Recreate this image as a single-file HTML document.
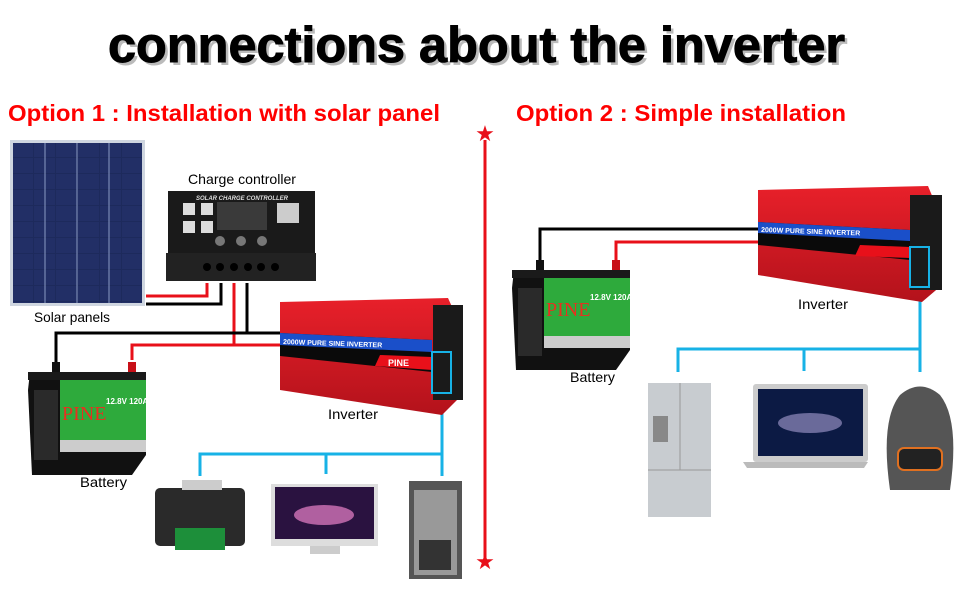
<!DOCTYPE html>
<html><head><meta charset="utf-8"><style>
html,body{margin:0;padding:0;background:#fff;width:970px;height:600px;overflow:hidden}
svg{display:block}
text{font-family:"Liberation Sans",sans-serif}
</style></head><body>
<svg width="970" height="600" viewBox="0 0 970 600" xmlns="http://www.w3.org/2000/svg">
<defs>
<pattern id="cells" x="12" y="142" width="22" height="16" patternUnits="userSpaceOnUse">
<rect width="22" height="16" fill="#1d2a5c"/><rect x="0" y="0" width="21" height="15" fill="#222f66"/>
</pattern>
<linearGradient id="red" x1="0" y1="0" x2="0" y2="1"><stop offset="0" stop-color="#e8202a"/><stop offset="1" stop-color="#b3121b"/></linearGradient>
</defs>
<text x="108" y="62" font-size="50" font-weight="bold" textLength="737" lengthAdjust="spacingAndGlyphs" fill="#bbb" transform="translate(3,3)">connections about the inverter</text>
<text x="108" y="62" font-size="50" font-weight="bold" textLength="737" lengthAdjust="spacingAndGlyphs" fill="#000" stroke="#000" stroke-width="1">connections about the inverter</text>
<text x="8" y="121" font-size="23" font-weight="bold" fill="#f00" textLength="432" lengthAdjust="spacingAndGlyphs">Option 1 : Installation with solar panel</text>
<text x="516" y="121" font-size="23" font-weight="bold" fill="#f00" textLength="330" lengthAdjust="spacingAndGlyphs">Option 2 : Simple installation</text>
<line x1="485" y1="140" x2="485" y2="558" stroke="#e8101a" stroke-width="3"/>
<text x="485" y="141" font-size="22" fill="#e8101a" text-anchor="middle">★</text>
<text x="485" y="569" font-size="22" fill="#e8101a" text-anchor="middle">★</text>

<g fill="none" stroke-width="3">
<polyline points="146,296 207,296 207,283" stroke="#e8101a"/>
<polyline points="146,304 221,304 221,283" stroke="#000"/>
<polyline points="234,283 234,345 132,345 132,360" stroke="#e8101a"/>
<polyline points="234,345 280,345" stroke="#e8101a"/>
<polyline points="247,283 247,333 56,333 56,366" stroke="#000"/>
<polyline points="247,333 280,333" stroke="#000"/>
<polyline points="442,390 442,476" stroke="#17b2e6"/>
<polyline points="200,476 200,454 442,454" stroke="#17b2e6"/>
<line x1="326" y1="454" x2="326" y2="474" stroke="#17b2e6"/>
</g>
<rect x="10" y="140" width="135" height="166" fill="#cfd6e0"/>
<rect x="13" y="143" width="129" height="160" fill="url(#cells)"/>
<line x1="77" y1="143" x2="77" y2="303" stroke="#8b9bc4" stroke-width="1"/>
<line x1="109" y1="143" x2="109" y2="303" stroke="#8b9bc4" stroke-width="1"/>
<line x1="45" y1="143" x2="45" y2="303" stroke="#8b9bc4" stroke-width="1"/>
<text x="34" y="322" font-size="14" textLength="76" lengthAdjust="spacingAndGlyphs">Solar panels</text>
<text x="188" y="184" font-size="14" textLength="108" lengthAdjust="spacingAndGlyphs">Charge controller</text>
<rect x="168" y="191" width="147" height="62" fill="#1a1a1a"/>
<text x="242" y="200" font-size="6" fill="#ddd" text-anchor="middle" font-style="italic" font-weight="bold">SOLAR CHARGE CONTROLLER</text>
<rect x="217" y="202" width="50" height="28" fill="#3a3a3a"/>
<rect x="183" y="203" width="12" height="12" fill="#ddd"/><rect x="201" y="203" width="12" height="12" fill="#ddd"/>
<rect x="183" y="221" width="12" height="12" fill="#ddd"/><rect x="201" y="221" width="12" height="12" fill="#ddd"/>
<rect x="277" y="203" width="22" height="20" fill="#ccc"/>
<circle cx="220" cy="241" r="5" fill="#777"/><circle cx="241" cy="241" r="5" fill="#777"/><circle cx="262" cy="241" r="5" fill="#777"/>
<rect x="166" y="253" width="150" height="28" fill="#222"/>
<g fill="#000"><circle cx="207" cy="267" r="4"/><circle cx="220" cy="267" r="4"/><circle cx="234" cy="267" r="4"/><circle cx="248" cy="267" r="4"/><circle cx="261" cy="267" r="4"/><circle cx="275" cy="267" r="4"/></g>
<polygon points="280,302 448,298 458,320 462,395 442,415 280,390" fill="url(#red)"/>
<rect x="433" y="305" width="30" height="95" fill="#1a1a1a"/>
<polygon points="280,333 432,340 432,372 280,356" fill="#0a0a0a"/>
<polygon points="280,333 432,340 432,352 280,345" fill="#1a4fc9"/>
<text x="283" y="344" font-size="7" font-weight="bold" fill="#fff" transform="rotate(2 283 344)">2000W PURE SINE INVERTER</text>
<polygon points="380,355 432,357 432,370 375,366" fill="#e8101a"/>
<text x="388" y="366" font-size="9" font-weight="bold" fill="#fff">PINE</text>
<rect x="432" y="352" width="19" height="41" fill="none" stroke="#17b2e6" stroke-width="2"/>
<text x="328" y="419" font-size="14" textLength="50" lengthAdjust="spacingAndGlyphs">Inverter</text>
<g transform="translate(28,370)">
<rect x="24" y="-8" width="8" height="10" fill="#111"/><rect x="100" y="-8" width="8" height="10" fill="#c81018"/>
<polygon points="2,2 118,2 118,85 104,105 4,105 0,20" fill="#111"/>
<rect x="6" y="20" width="24" height="70" fill="#2a2a2a"/>
<rect x="0" y="2" width="118" height="8" fill="#1a1a1a"/>
<rect x="32" y="10" width="86" height="60" fill="#2eaa3c"/>
<rect x="32" y="70" width="86" height="12" fill="#ccc"/>
<text x="34" y="50" font-size="20" fill="#e83020" style="font-family:'Liberation Serif',serif">PINE</text>
<text x="78" y="34" font-size="8" fill="#fff" font-weight="bold">12.8V 120Ah</text>
</g>
<text x="80" y="487" font-size="14" textLength="47" lengthAdjust="spacingAndGlyphs">Battery</text>
<rect x="155" y="488" width="90" height="58" rx="5" fill="#2a2a2a"/>
<rect x="175" y="528" width="50" height="22" fill="#1d8f3a"/>
<rect x="182" y="480" width="40" height="10" fill="#ccc"/>
<rect x="271" y="484" width="107" height="62" fill="#ddd"/>
<rect x="275" y="487" width="99" height="52" fill="#2a1240"/>
<ellipse cx="324" cy="515" rx="30" ry="10" fill="#b060a0"/>
<rect x="310" y="546" width="30" height="8" fill="#ccc"/>
<rect x="409" y="481" width="53" height="98" fill="#555"/>
<rect x="414" y="490" width="43" height="85" fill="#999"/>
<rect x="419" y="540" width="32" height="30" fill="#333"/>

<g fill="none" stroke-width="3">
<polyline points="540,290 540,229 760,229" stroke="#000"/>
<polyline points="616,265 616,242 760,242" stroke="#e8101a"/>
<polyline points="920,288 920,372" stroke="#17b2e6"/>
<polyline points="678,372 678,349 920,349" stroke="#17b2e6"/>
<line x1="804" y1="349" x2="804" y2="371" stroke="#17b2e6"/>
</g>
<g transform="translate(512,268)">
<rect x="24" y="-8" width="8" height="10" fill="#111"/><rect x="100" y="-8" width="8" height="10" fill="#c81018"/>
<polygon points="2,2 118,2 118,82 104,102 4,102 0,20" fill="#111"/>
<rect x="6" y="20" width="24" height="68" fill="#2a2a2a"/>
<rect x="0" y="2" width="118" height="8" fill="#1a1a1a"/>
<rect x="32" y="10" width="86" height="58" fill="#2eaa3c"/>
<rect x="32" y="68" width="86" height="12" fill="#ccc"/>
<text x="34" y="48" font-size="20" fill="#e83020" style="font-family:'Liberation Serif',serif">PINE</text>
<text x="78" y="32" font-size="8" fill="#fff" font-weight="bold">12.8V 120Ah</text>
</g>
<text x="570" y="382" font-size="14" textLength="45" lengthAdjust="spacingAndGlyphs">Battery</text>
<polygon points="758,190 928,186 938,210 942,285 922,302 758,275" fill="url(#red)"/>
<rect x="910" y="195" width="32" height="95" fill="#1a1a1a"/>
<polygon points="758,222 910,230 910,260 758,245" fill="#0a0a0a"/>
<polygon points="758,222 910,230 910,241 758,233" fill="#1a4fc9"/>
<text x="761" y="232" font-size="7" font-weight="bold" fill="#fff" transform="rotate(2 761 232)">2000W PURE SINE INVERTER</text>
<polygon points="860,245 910,247 910,258 855,256" fill="#e8101a"/>
<rect x="910" y="247" width="19" height="40" fill="none" stroke="#17b2e6" stroke-width="2"/>
<text x="798" y="309" font-size="14" textLength="50" lengthAdjust="spacingAndGlyphs">Inverter</text>
<rect x="648" y="383" width="63" height="134" fill="#c8ccd0"/>
<line x1="680" y1="383" x2="680" y2="470" stroke="#999"/>
<line x1="648" y1="470" x2="711" y2="470" stroke="#999"/>
<rect x="653" y="416" width="15" height="26" fill="#888"/>
<rect x="753" y="384" width="115" height="78" rx="3" fill="#ccc"/>
<rect x="758" y="389" width="105" height="67" fill="#0c1a44"/>
<ellipse cx="810" cy="423" rx="32" ry="10" fill="#6a6a9a"/>
<polygon points="743,462 868,462 864,468 747,468" fill="#bbb"/>
<path d="M890,490 Q880,420 900,395 Q920,378 940,395 Q960,420 950,490 Z" fill="#555"/>
<rect x="898" y="448" width="44" height="22" rx="6" fill="#222" stroke="#e07020" stroke-width="2"/>
</svg>
</body></html>
